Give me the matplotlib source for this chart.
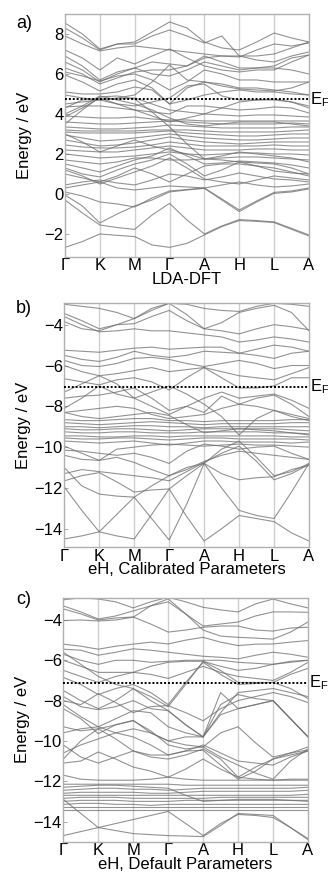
import numpy as np
import matplotlib
matplotlib.use('Agg')
import matplotlib.pyplot as plt
from matplotlib import transforms

plt.rcParams['font.family'] = ['Liberation Sans', 'DejaVu Sans']
plt.rcParams['axes.unicode_minus'] = True

# high symmetry path, each band is read at the points and the midpoints between them
kpoint_labels = ['Γ', 'K', 'M', 'Γ', 'A', 'H', 'L', 'A']
panel_letters = ['a)', 'b)', 'c)']
panel_titles = ['LDA-DFT', 'eH, Calibrated Parameters', 'eH, Default Parameters']
fermi_levels = [4.73, -7.03, -7.12]

# a) LDA-DFT bands (eV)
lda_bands = [
    [-2.67, -2.38, -2.0, -2.07, -2.13, -2.55, -2.67, -2.47, -2.05, -1.63, -1.33, -1.37, -1.43, -1.77, -2.1],
    [-0.3, -0.95, -1.55, -1.68, -1.77, -1.05, -0.47, -1.3, -2.0, -1.6, -1.28, -1.33, -1.4, -1.72, -2.05],
    [-0.05, -0.6, -1.45, -1.0, -0.6, -0.3, 0.1, 0.2, 0.28, -0.3, -0.88, -0.4, 0.03, 0.1, 0.25],
    [0.1, -0.1, -0.4, -0.5, -0.65, -0.2, 0.15, 0.22, 0.3, -0.25, -0.8, -0.35, 0.08, 0.15, 0.3],
    [0.3, 0.45, 0.6, 0.3, 0.2, 0.3, 0.4, 0.35, 0.3, 0.45, 0.6, 0.45, 0.35, 0.4, 0.5],
    [0.45, 0.6, 0.7, 0.55, 0.45, 0.7, 1.0, 0.9, 0.7, 0.85, 1.05, 0.9, 0.75, 0.7, 0.6],
    [1.2, 0.9, 0.5, 0.8, 1.1, 1.4, 1.8, 1.3, 0.75, 0.6, 0.5, 0.7, 0.9, 0.8, 0.7],
    [1.0, 0.8, 0.6, 0.9, 1.3, 1.0, 0.6, 1.0, 1.4, 1.5, 1.5, 1.4, 1.3, 1.1, 0.9],
    [1.3, 1.0, 0.85, 1.2, 1.5, 1.7, 2.0, 1.5, 0.9, 1.2, 1.6, 1.4, 1.15, 1.05, 1.0],
    [1.5, 1.3, 1.1, 1.4, 1.7, 1.9, 2.3, 1.9, 1.5, 1.55, 1.65, 1.6, 1.55, 1.45, 1.3],
    [1.7, 1.6, 1.5, 1.6, 1.8, 1.8, 1.7, 1.7, 1.75, 1.8, 1.85, 1.85, 1.8, 1.75, 1.7],
    [2.0, 1.9, 1.8, 1.85, 1.9, 2.0, 2.1, 2.0, 1.95, 2.0, 2.05, 2.05, 2.0, 2.0, 1.95],
    [3.0, 2.6, 2.1, 2.4, 2.7, 2.4, 2.2, 2.0, 1.75, 1.9, 2.1, 2.0, 1.9, 1.8, 1.6],
    [2.2, 2.15, 2.1, 2.1, 2.2, 2.3, 2.4, 2.3, 2.2, 2.2, 2.2, 2.25, 2.25, 2.2, 2.2],
    [2.45, 2.35, 2.3, 2.3, 2.35, 2.45, 2.6, 2.5, 2.4, 2.4, 2.4, 2.4, 2.45, 2.4, 2.4],
    [2.7, 2.55, 2.4, 2.45, 2.55, 2.7, 2.85, 2.7, 2.6, 2.55, 2.5, 2.55, 2.6, 2.6, 2.6],
    [2.95, 2.8, 2.65, 2.7, 2.8, 2.9, 3.0, 2.9, 2.8, 2.75, 2.7, 2.7, 2.75, 2.8, 2.8],
    [3.1, 3.05, 3.05, 3.05, 3.05, 3.1, 3.15, 3.05, 3.0, 2.95, 2.9, 2.9, 2.95, 3.0, 3.0],
    [3.2, 3.15, 3.15, 3.15, 3.15, 3.2, 3.2, 3.2, 3.15, 3.1, 3.1, 3.1, 3.1, 3.15, 3.2],
    [3.35, 3.3, 3.25, 3.25, 3.3, 3.35, 3.45, 3.4, 3.35, 3.3, 3.3, 3.3, 3.3, 3.35, 3.35],
    [3.6, 3.55, 3.5, 3.5, 3.55, 3.6, 3.65, 3.6, 3.55, 3.5, 3.5, 3.5, 3.5, 3.55, 3.5],
    [3.9, 3.85, 3.8, 3.8, 3.85, 3.75, 3.7, 3.7, 3.65, 3.65, 3.65, 3.65, 3.65, 3.65, 3.65],
    [3.5, 4.2, 4.85, 4.9, 4.75, 4.1, 3.35, 2.5, 1.75, 1.7, 1.6, 1.55, 1.5, 1.3, 1.0],
    [3.85, 4.3, 4.8, 4.5, 4.2, 3.9, 3.6, 3.8, 4.0, 3.95, 3.9, 3.95, 3.95, 3.9, 3.85],
    [4.0, 4.4, 4.9, 4.7, 4.5, 4.2, 3.8, 3.5, 3.4, 3.5, 3.6, 3.6, 3.6, 3.5, 3.4],
    [4.35, 4.4, 4.4, 4.3, 4.2, 4.1, 4.0, 4.4, 4.4, 4.3, 4.2, 4.25, 4.35, 4.3, 4.05],
    [4.3, 4.7, 4.75, 4.75, 4.8, 4.5, 4.2, 4.1, 4.0, 4.3, 4.6, 4.7, 4.75, 4.6, 4.4],
    [4.5, 4.6, 4.7, 4.5, 4.4, 4.6, 4.8, 5.4, 5.5, 4.9, 4.7, 4.7, 4.7, 4.6, 4.3],
    [4.95, 4.8, 4.7, 4.8, 4.95, 5.6, 6.45, 5.7, 5.6, 5.5, 5.3, 5.3, 5.2, 5.1, 4.95],
    [5.1, 5.0, 5.0, 5.1, 5.35, 5.2, 4.5, 4.7, 4.95, 5.1, 5.2, 5.1, 5.1, 5.0, 4.95],
    [5.95, 5.6, 5.15, 5.5, 5.7, 5.3, 4.5, 5.3, 5.6, 5.4, 5.25, 5.2, 5.15, 5.3, 5.6],
    [6.1, 5.9, 5.65, 5.9, 6.0, 5.7, 5.2, 5.6, 6.2, 6.0, 5.7, 5.7, 5.6, 5.6, 5.6],
    [6.3, 6.0, 5.5, 5.8, 6.1, 6.2, 6.2, 6.4, 6.8, 6.9, 6.9, 6.7, 6.6, 6.9, 7.1],
    [6.6, 6.2, 5.6, 6.0, 6.3, 6.0, 5.9, 6.2, 6.6, 6.4, 6.2, 6.3, 6.4, 6.8, 6.95],
    [6.9, 6.4, 5.7, 6.1, 6.3, 6.6, 6.5, 6.4, 6.9, 6.6, 6.3, 6.3, 6.3, 6.2, 6.0],
    [7.2, 6.8, 6.2, 6.8, 6.5, 6.9, 7.25, 6.8, 6.4, 6.2, 6.1, 6.2, 6.2, 6.6, 6.95],
    [7.9, 7.5, 7.15, 7.3, 7.4, 7.3, 7.2, 7.1, 7.0, 6.9, 6.85, 7.2, 7.5, 7.4, 7.55],
    [8.3, 7.8, 7.2, 7.5, 7.5, 7.9, 8.2, 7.9, 7.55, 7.9, 6.9, 6.9, 7.0, 7.3, 7.6],
    [8.55, 8.0, 7.25, 7.5, 7.6, 8.1, 8.6, 8.3, 7.6, 7.3, 7.2, 7.6, 8.05, 7.8, 7.6],
]

# b) extended Hueckel, calibrated parameters (eV)
eh_calibrated_bands = [
    [-14.5, -14.35, -14.15, -14.35, -14.5, -13.3, -12.05, -13.4, -14.6, -14.0, -13.35, -13.5, -13.65, -14.2, -14.6],
    [-11.95, -13.1, -14.15, -13.3, -12.45, -13.5, -14.55, -12.8, -10.8, -12.0, -13.1, -13.35, -13.5, -12.2, -10.8],
    [-11.65, -11.4, -11.25, -11.7, -12.2, -12.1, -12.05, -11.4, -10.8, -10.1, -9.7, -10.5, -11.4, -11.2, -10.8],
    [-11.3, -11.1, -11.2, -11.3, -11.4, -11.5, -11.65, -11.2, -10.75, -10.3, -9.95, -10.7, -11.6, -11.3, -10.85],
    [-11.0, -11.9, -12.3, -12.4, -12.45, -11.9, -11.4, -11.0, -10.8, -11.3, -11.6, -11.5, -11.45, -11.1, -10.9],
    [-10.4, -10.6, -10.65, -10.5, -10.75, -11.1, -11.4, -11.1, -10.7, -10.4, -10.2, -10.3, -10.4, -10.5, -10.6],
    [-10.15, -10.2, -10.3, -10.4, -10.3, -10.5, -10.8, -10.2, -9.85, -9.95, -10.1, -10.0, -9.95, -10.3, -10.6],
    [-9.95, -10.3, -10.65, -10.1, -10.0, -9.9, -9.85, -9.9, -9.95, -9.9, -9.85, -9.9, -9.9, -9.95, -10.0],
    [-9.7, -9.75, -9.8, -9.75, -9.7, -9.8, -9.9, -9.8, -9.7, -9.7, -9.75, -9.75, -9.75, -9.8, -9.75],
    [-9.55, -9.6, -9.6, -9.55, -9.55, -9.6, -9.65, -9.6, -9.55, -9.55, -9.6, -9.6, -9.6, -9.6, -9.65],
    [-9.45, -9.45, -9.5, -9.5, -9.45, -9.45, -9.5, -9.45, -9.45, -9.45, -9.45, -9.45, -9.45, -9.5, -9.5],
    [-9.25, -9.3, -9.3, -9.25, -9.25, -9.3, -9.3, -9.3, -9.25, -9.25, -9.25, -9.25, -9.3, -9.3, -9.35],
    [-9.1, -9.15, -9.15, -9.1, -9.1, -9.15, -9.2, -9.15, -9.1, -9.1, -9.1, -9.1, -9.1, -9.15, -9.2],
    [-9.0, -9.0, -9.05, -9.0, -8.95, -8.95, -9.0, -9.0, -9.05, -9.0, -9.0, -9.0, -9.0, -9.0, -9.0],
    [-8.8, -8.85, -8.9, -8.85, -8.8, -8.75, -8.8, -8.85, -8.9, -8.85, -8.85, -8.85, -8.85, -8.8, -8.8],
    [-8.65, -8.7, -8.7, -8.65, -8.6, -8.6, -8.7, -8.7, -8.75, -8.7, -8.7, -8.7, -8.7, -8.65, -8.65],
    [-8.3, -8.5, -8.6, -8.5, -8.4, -8.3, -8.45, -8.9, -9.3, -9.2, -9.1, -9.15, -9.2, -9.3, -9.4],
    [-8.3, -8.2, -8.1, -8.0, -8.1, -8.4, -8.6, -8.5, -8.4, -8.1, -7.9, -8.0, -8.2, -8.5, -8.7],
    [-8.1, -7.6, -7.0, -7.4, -7.6, -7.3, -7.0, -7.4, -7.9, -8.5, -9.4, -8.6, -8.2, -8.4, -8.6],
    [-7.6, -7.5, -7.45, -7.3, -7.1, -7.6, -8.2, -8.0, -8.3, -7.5, -7.9, -7.6, -7.45, -7.9, -8.5],
    [-7.3, -6.9, -6.5, -6.9, -7.6, -8.0, -8.4, -8.0, -7.6, -7.3, -7.6, -7.5, -7.4, -7.7, -8.1],
    [-6.65, -6.8, -6.95, -6.7, -6.6, -6.8, -7.2, -6.6, -6.1, -6.6, -7.1, -7.1, -7.0, -6.6, -6.6],
    [-6.0, -6.3, -6.5, -6.4, -6.25, -6.1, -6.3, -6.2, -6.1, -6.3, -6.5, -6.6, -6.7, -6.4, -6.1],
    [-5.75, -6.0, -6.05, -5.9, -5.65, -5.6, -5.7, -5.9, -6.05, -5.9, -5.75, -5.9, -6.15, -6.0, -6.0],
    [-5.5, -5.7, -5.8, -5.6, -5.3, -5.5, -5.6, -5.5, -5.3, -5.35, -5.4, -5.5, -5.65, -5.4, -5.3],
    [-5.25, -5.3, -5.35, -5.25, -5.15, -5.1, -5.2, -5.15, -5.1, -5.1, -5.4, -5.2, -5.0, -5.1, -5.3],
    [-3.85, -4.2, -4.3, -4.0, -3.7, -3.2, -2.95, -3.5, -4.2, -3.9, -3.4, -3.2, -3.05, -3.4, -4.3],
    [-3.6, -4.0, -4.35, -4.3, -4.2, -4.3, -4.3, -4.4, -4.5, -4.6, -4.85, -4.75, -4.6, -4.7, -4.85],
    [-3.45, -3.8, -4.2, -4.0, -3.95, -3.6, -3.3, -3.8, -4.2, -4.3, -4.45, -4.2, -4.0, -4.1, -4.25],
    [-3.0, -3.1, -3.2, -3.4, -3.7, -3.3, -2.95, -3.0, -3.2, -3.3, -3.35, -3.1, -2.95, -3.0, -3.1],
]

# c) extended Hueckel, default parameters (eV)
eh_default_bands = [
    [-14.7, -14.5, -14.3, -14.45, -14.6, -14.65, -14.7, -14.72, -14.75, -14.2, -13.6, -13.65, -13.7, -14.3, -14.9],
    [-12.9, -13.6, -14.3, -14.1, -13.9, -13.7, -13.5, -14.1, -14.7, -14.1, -13.65, -13.7, -13.8, -14.3, -14.85],
    [-13.45, -13.45, -13.45, -13.45, -13.45, -13.45, -13.45, -13.45, -13.45, -13.45, -13.45, -13.45, -13.45, -13.45, -13.45],
    [-13.3, -13.3, -13.3, -13.3, -13.3, -13.3, -13.3, -13.3, -13.3, -13.3, -13.3, -13.3, -13.3, -13.3, -13.3],
    [-13.15, -13.1, -13.1, -13.15, -13.15, -13.2, -13.15, -13.15, -13.15, -13.15, -13.15, -13.15, -13.15, -13.15, -13.15],
    [-13.0, -12.95, -12.95, -12.95, -13.0, -13.0, -13.0, -12.95, -12.95, -12.95, -12.95, -12.95, -12.95, -12.95, -12.95],
    [-12.85, -12.8, -12.8, -12.8, -12.85, -12.85, -12.85, -12.85, -12.85, -12.8, -12.8, -12.8, -12.8, -12.8, -12.8],
    [-12.7, -12.7, -12.7, -12.7, -12.7, -12.7, -12.7, -12.7, -12.7, -12.7, -12.7, -12.7, -12.7, -12.7, -12.65],
    [-12.6, -12.55, -12.55, -12.55, -12.55, -12.6, -12.6, -12.55, -12.5, -12.5, -12.5, -12.5, -12.5, -12.5, -12.45],
    [-12.45, -12.4, -12.35, -12.35, -12.4, -12.4, -12.45, -12.4, -12.35, -12.35, -12.35, -12.35, -12.35, -12.35, -12.3],
    [-12.3, -12.25, -12.2, -12.2, -12.25, -12.3, -12.35, -12.7, -13.0, -12.95, -12.9, -12.9, -12.9, -12.95, -13.0],
    [-12.15, -12.15, -12.15, -12.15, -12.15, -12.15, -12.15, -12.2, -12.2, -12.2, -12.2, -12.2, -12.2, -12.2, -12.2],
    [-11.7, -11.9, -11.95, -11.95, -11.95, -11.9, -11.8, -11.9, -11.95, -11.95, -11.95, -11.95, -11.95, -11.95, -11.95],
    [-11.1, -11.0, -10.55, -10.9, -11.3, -11.5, -11.8, -11.4, -10.9, -11.4, -11.8, -11.9, -11.95, -11.9, -11.9],
    [-10.2, -10.8, -11.1, -10.8, -10.5, -10.8, -10.9, -10.7, -10.4, -10.9, -11.8, -11.3, -10.9, -10.7, -10.5],
    [-10.9, -10.0, -9.4, -9.9, -10.5, -10.7, -10.7, -10.5, -10.47, -11.2, -11.9, -11.5, -10.9, -10.6, -10.3],
    [-10.6, -10.2, -9.9, -9.6, -9.4, -9.6, -10.0, -10.2, -10.3, -9.6, -9.3, -10.1, -10.8, -10.6, -10.45],
    [-9.3, -9.5, -9.4, -9.2, -9.0, -9.5, -10.2, -10.4, -10.3, -10.8, -11.2, -11.6, -11.9, -11.0, -10.4],
    [-9.6, -9.4, -9.3, -9.6, -9.8, -10.2, -10.7, -10.5, -10.2, -10.6, -11.0, -11.1, -11.2, -10.8, -10.5],
    [-8.4, -8.9, -9.64, -9.2, -8.98, -9.6, -10.0, -9.8, -9.8, -8.7, -8.4, -8.2, -8.0, -8.9, -9.8],
    [-8.2, -8.8, -9.3, -8.9, -8.5, -8.6, -9.3, -9.6, -9.8, -8.6, -7.6, -7.5, -7.4, -7.6, -7.8],
    [-7.8, -8.3, -8.45, -8.3, -8.0, -8.4, -8.5, -9.2, -9.8, -8.2, -7.7, -7.9, -8.0, -8.9, -9.8],
    [-8.0, -8.2, -7.66, -8.1, -8.6, -8.3, -8.25, -8.6, -9.0, -8.4, -8.0, -7.8, -7.6, -7.8, -8.1],
    [-5.6, -6.2, -6.8, -7.2, -7.4, -8.0, -8.5, -9.2, -9.8, -7.6, -8.4, -8.2, -8.0, -8.9, -9.8],
    [-7.5, -8.0, -8.4, -8.0, -7.41, -7.8, -8.3, -7.2, -6.05, -6.5, -7.1, -7.1, -7.1, -7.4, -7.9],
    [-6.85, -7.2, -7.7, -7.4, -7.2, -7.6, -8.2, -7.1, -6.1, -6.7, -7.2, -7.15, -7.1, -6.7, -6.4],
    [-6.5, -6.8, -7.1, -6.8, -6.6, -6.7, -6.9, -6.6, -6.3, -6.6, -6.8, -6.9, -7.0, -6.6, -6.1],
    [-6.0, -6.3, -6.6, -6.6, -6.6, -6.3, -6.1, -6.05, -6.05, -6.3, -6.5, -6.4, -6.2, -6.1, -6.0],
    [-5.7, -6.0, -6.2, -6.0, -6.0, -6.1, -6.05, -6.0, -6.0, -6.0, -6.1, -6.15, -6.2, -6.05, -6.0],
    [-5.45, -5.5, -5.75, -5.6, -5.43, -5.5, -5.6, -5.7, -5.8, -5.85, -5.93, -5.75, -5.6, -5.7, -5.85],
    [-5.2, -5.3, -5.45, -5.3, -5.2, -5.1, -5.19, -5.0, -4.86, -5.1, -5.27, -5.2, -5.19, -5.1, -5.02],
    [-4.03, -4.0, -4.05, -4.0, -3.86, -3.3, -2.95, -3.7, -4.5, -4.8, -4.86, -4.9, -4.95, -4.6, -4.1],
    [-3.45, -3.7, -4.0, -3.9, -3.85, -4.2, -4.6, -4.5, -4.36, -4.3, -4.3, -4.5, -4.55, -4.4, -4.36],
    [-3.3, -3.6, -3.95, -3.8, -3.55, -3.3, -3.1, -3.7, -4.3, -4.2, -4.1, -3.8, -3.6, -3.6, -3.62],
    [-3.0, -2.9, -2.96, -3.1, -3.4, -3.1, -2.87, -3.1, -3.37, -3.5, -3.6, -3.2, -2.96, -3.2, -3.4],
]

all_bands = [lda_bands, eh_calibrated_bands, eh_default_bands]

fig = plt.figure(figsize=(3.28, 8.74), dpi=100)

# axes boxes in figure fractions
boxes = [[0.198, 0.706, 0.744, 0.278],
         [0.196, 0.374, 0.746, 0.279],
         [0.193, 0.037, 0.746, 0.279]]
ylims = [(-3.15, 9.0), (-14.9, -2.95), (-15.0, -2.9)]
yticks = [[-2, 0, 2, 4, 6, 8], [-14, -12, -10, -8, -6, -4], [-14, -12, -10, -8, -6, -4]]
letter_y = [15, 300, 591]

kx = np.arange(15) / 2.0

for i in range(3):
    ax = fig.add_axes(boxes[i])

    # vertical lines at the high symmetry points
    for x in range(1, 7):
        ax.axvline(x, color='#cfcfcf', lw=1.0, zorder=0)

    for band in all_bands[i]:
        ax.plot(kx, band, color='#6e6e6e', lw=0.8, alpha=0.75)

    ax.axhline(fermi_levels[i], color='black', lw=1.4, ls=(0, (1, 1)), zorder=5)

    ax.set_xlim(0, 7)
    ax.set_ylim(*ylims[i])
    ax.set_xticks(range(8))
    ax.set_xticklabels(kpoint_labels)
    ax.set_yticks(yticks[i])
    ax.tick_params(axis='x', length=0, pad=1, labelsize=12)
    ax.tick_params(axis='y', direction='in', length=3, width=0.6, color='#999999',
                   pad=1, labelsize=12)
    for s in ax.spines.values():
        s.set_color('#b0b0b0')
        s.set_linewidth(1.0)

    ax.set_xlabel(panel_titles[i], fontsize=12, labelpad=-1)
    ax.set_ylabel('Energy / eV', fontsize=12)
    ax.yaxis.set_label_coords(-0.135, 0.5)

    # E_F label right of the axes
    trans = transforms.blended_transform_factory(ax.transAxes, ax.transData)
    ax.text(1.008, fermi_levels[i], 'E', transform=trans, va='center', ha='left',
            fontsize=12, clip_on=False)
    ax.annotate('F', xy=(1.008, fermi_levels[i]), xycoords=trans,
                xytext=(7.5, -4.5), textcoords='offset points', fontsize=8,
                va='baseline', ha='left', annotation_clip=False)

    fig.text(16 / 328, 1 - letter_y[i] / 874, panel_letters[i], fontsize=13,
             va='top', ha='left')

fig.savefig('out.png', dpi=100)
